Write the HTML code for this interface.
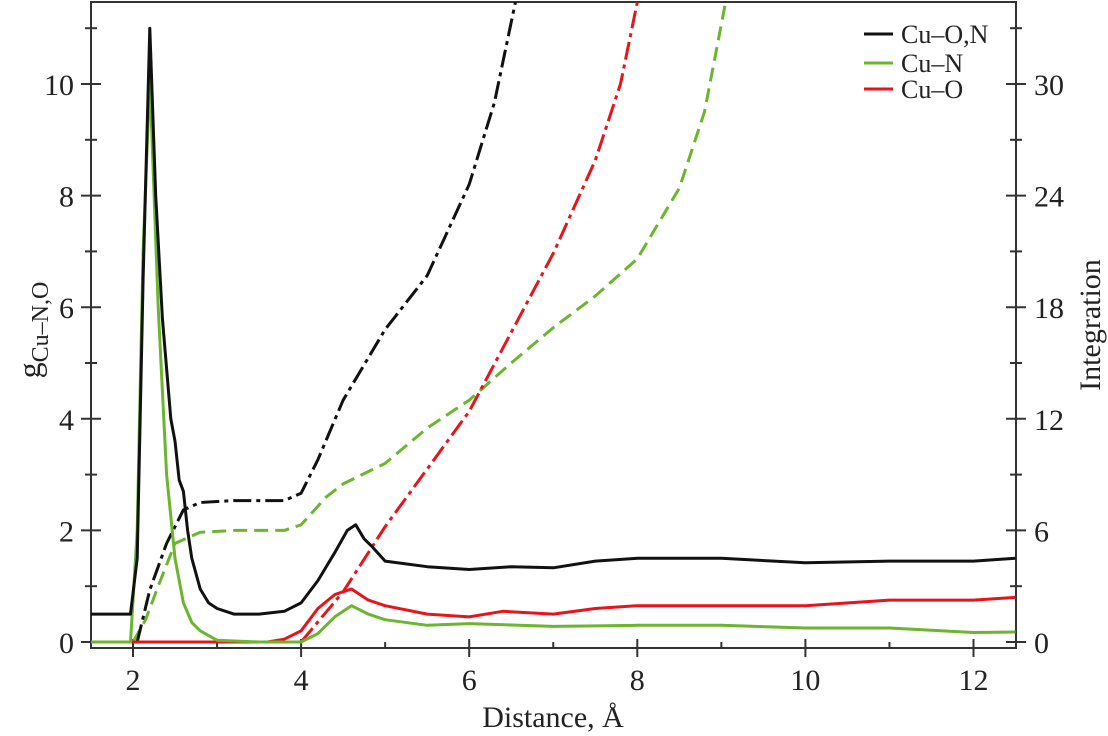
<!DOCTYPE html>
<html><head><meta charset="utf-8">
<style>
html,body{margin:0;padding:0;background:#fff;}
svg{display:block;font-family:"Liberation Serif",serif;}
</style></head>
<body>
<svg id="chart" width="1108" height="736" viewBox="0 0 1108 736" xmlns="http://www.w3.org/2000/svg"></svg>
<script>
const xTicks = [2,4,6,8,10,12];
const yLeftTicks = [0,2,4,6,8,10];
const yRightTicks = [0,6,12,18,24,30];

const gONx = [1.5,1.97,2.05,2.12,2.2,2.27,2.35,2.45,2.5,2.55,2.6,2.65,2.7,2.8,2.9,3.0,3.2,3.5,3.8,4.0,4.2,4.4,4.55,4.65,4.75,4.85,5.0,5.5,6.0,6.5,7.0,7.5,8.0,9.0,10.0,11.0,12.0,12.5];
const gONy = [0.5,0.5,1.5,6.5,11.0,8.0,5.8,4.0,3.6,2.9,2.7,2.0,1.5,0.95,0.7,0.6,0.5,0.5,0.55,0.7,1.1,1.6,2.0,2.1,1.85,1.7,1.45,1.35,1.3,1.35,1.33,1.45,1.5,1.5,1.42,1.45,1.45,1.5];
const gNx = [1.5,1.97,2.05,2.12,2.2,2.3,2.4,2.5,2.6,2.7,2.8,3.0,3.5,4.0,4.2,4.4,4.6,4.8,5.0,5.5,6.0,7.0,8.0,9.0,10.0,11.0,12.0,12.5];
const gNy = [0,0,2.0,7.0,10.1,6.0,3.0,1.5,0.7,0.35,0.2,0.03,0,0,0.15,0.45,0.65,0.5,0.4,0.3,0.33,0.28,0.3,0.3,0.25,0.25,0.17,0.18];
const gOx = [1.5,3.6,3.8,4.0,4.2,4.4,4.6,4.8,5.0,5.5,6.0,6.4,7.0,7.5,8.0,9.0,10.0,11.0,12.0,12.5];
const gOy = [0,0,0.05,0.2,0.6,0.85,0.95,0.75,0.65,0.5,0.45,0.55,0.5,0.6,0.65,0.65,0.65,0.75,0.75,0.8];

const iONx = [2.05,2.2,2.4,2.6,2.8,3.2,3.8,4.0,4.2,4.5,5.0,5.5,6.0,6.3,6.55];
const iONy = [0,2.8,5.3,7.1,7.5,7.6,7.6,8.0,9.8,13.0,16.8,19.7,24.6,29.0,34.4];
const iNx = [2.0,2.15,2.3,2.5,2.8,3.2,3.8,4.0,4.3,4.5,5.0,5.5,6.0,6.5,7.0,7.5,8.0,8.5,8.8,9.05];
const iNy = [0,1.2,3.0,5.3,5.9,6.0,6.0,6.3,7.8,8.5,9.6,11.5,13.0,15.0,16.9,18.6,20.6,24.4,28.5,34.4];
const iOx = [4.0,4.5,5.0,6.0,7.0,7.5,7.8,8.0];
const iOy = [0,2.7,6.2,12.4,20.9,25.9,30.0,34.4];

const L=91,R=1016,T=2,B=648;
const X = v => 133 + (v-2)*84.05;
const YL = v => 642 - v*55.8;
const YR = v => 642 - v*18.6;
const svg = document.getElementById('chart');
const NS='http://www.w3.org/2000/svg';
function mk(tag, attrs, parent){const e=document.createElementNS(NS,tag);for(const k in attrs)e.setAttribute(k,attrs[k]);(parent||svg).appendChild(e);return e;}

const defs = mk('defs',{});
const cp = mk('clipPath',{id:'clip'},defs);
mk('rect',{x:L,y:T,width:R-L,height:B-T},cp);

// frame
const frame = mk('rect',{x:L,y:T,width:R-L,height:B-T,fill:'none',stroke:'#333',"stroke-width":2});



// x ticks
for(let v=2; v<=12; v+=1){
  const major = v%2===0;
  const t = mk('line',{x1:X(v),x2:X(v),y1:B-(major?9:6),y2:B+(major?9:0),stroke:'#333',"stroke-width":2});
  
  
}
xTicks.forEach(v=>{
  const t = mk('text',{x:X(v),y:B+42,"text-anchor":"middle","font-size":30,fill:'#222'});
  t.textContent=v;
  
  
});
// left ticks
for(let v=0; v<=11; v+=1){
  const major=v%2===0;
  const t = mk('line',{x1:L-(major?10:6),x2:L+(major?10:6),y1:YL(v),y2:YL(v),stroke:'#333',"stroke-width":2});
  
  
}
yLeftTicks.forEach(v=>{
  const t = mk('text',{x:L-17,y:YL(v)+11,"text-anchor":"end","font-size":30,fill:'#222'});
  t.textContent=v;
  
  
});
// right ticks
for(let v=0; v<=33; v+=3){
  const major=v%6===0;
  const t = mk('line',{x1:R-(major?10:6),x2:R+(major?10:6),y1:YR(v),y2:YR(v),stroke:'#333',"stroke-width":2});
  
  
}
yRightTicks.forEach(v=>{
  const t = mk('text',{x:R+18,y:YR(v)+11,"text-anchor":"start","font-size":30,fill:'#222'});
  t.textContent=v;
  
  
});

// axis titles
const xt = mk('text',{x:553,y:727,"text-anchor":"middle","font-size":30,fill:'#222'});
xt.textContent='Distance, Å';


const yt = mk('text',{transform:'translate(40,330) rotate(-90)',"text-anchor":"middle","font-size":32,fill:'#222'});


const g1 = mk('tspan',{},yt); g1.textContent='g';
const g2 = mk('tspan',{dy:8,"font-size":24},yt); g2.textContent='Cu–N,O';
const rt = mk('text',{transform:'translate(1100,325) rotate(-90)',"text-anchor":"middle","font-size":30,fill:'#222'});
rt.textContent='Integration';



// series
const gClip = mk('g',{"clip-path":"url(#clip)"});
function line(xs, ys, yf, color, dash, name){
  const d = xs.map((x,i)=>(i?'L':'M')+X(x).toFixed(1)+','+yf(ys[i]).toFixed(1)).join(' ');
  const p = mk('path',{d:d,fill:'none',stroke:color,"stroke-width":3,"stroke-linejoin":"round"},gClip);
  if(dash) p.setAttribute('stroke-dasharray',dash);
  
  
}
const BLK='#111', GRN='#6cb52e', RED='#e8141b';
line(iNx,iNy,YR,GRN,'14,7','integration-cu-n');
line(iOx,iOy,YR,RED,'18,5,4,5','integration-cu-o');
line(iONx,iONy,YR,BLK,'18,5,4,5','integration-cu-on');
line(gOx,gOy,YL,RED,null,'g-cu-o');
line(gNx,gNy,YL,GRN,null,'g-cu-n');
line(gONx,gONy,YL,BLK,null,'g-cu-on');

// legend
const lg = mk('g',{});


[['Cu–O,N',BLK,34],['Cu–N',GRN,63],['Cu–O',RED,89]].forEach(([lab,c,y])=>{
  const s = mk('line',{x1:864,x2:893,y1:y,y2:y,stroke:c,"stroke-width":3},lg);
  
  
  const t = mk('text',{x:901,y:y+9,"font-size":26,fill:'#222'},lg);
  t.textContent=lab;
  
  
});
</script>
</body></html>
